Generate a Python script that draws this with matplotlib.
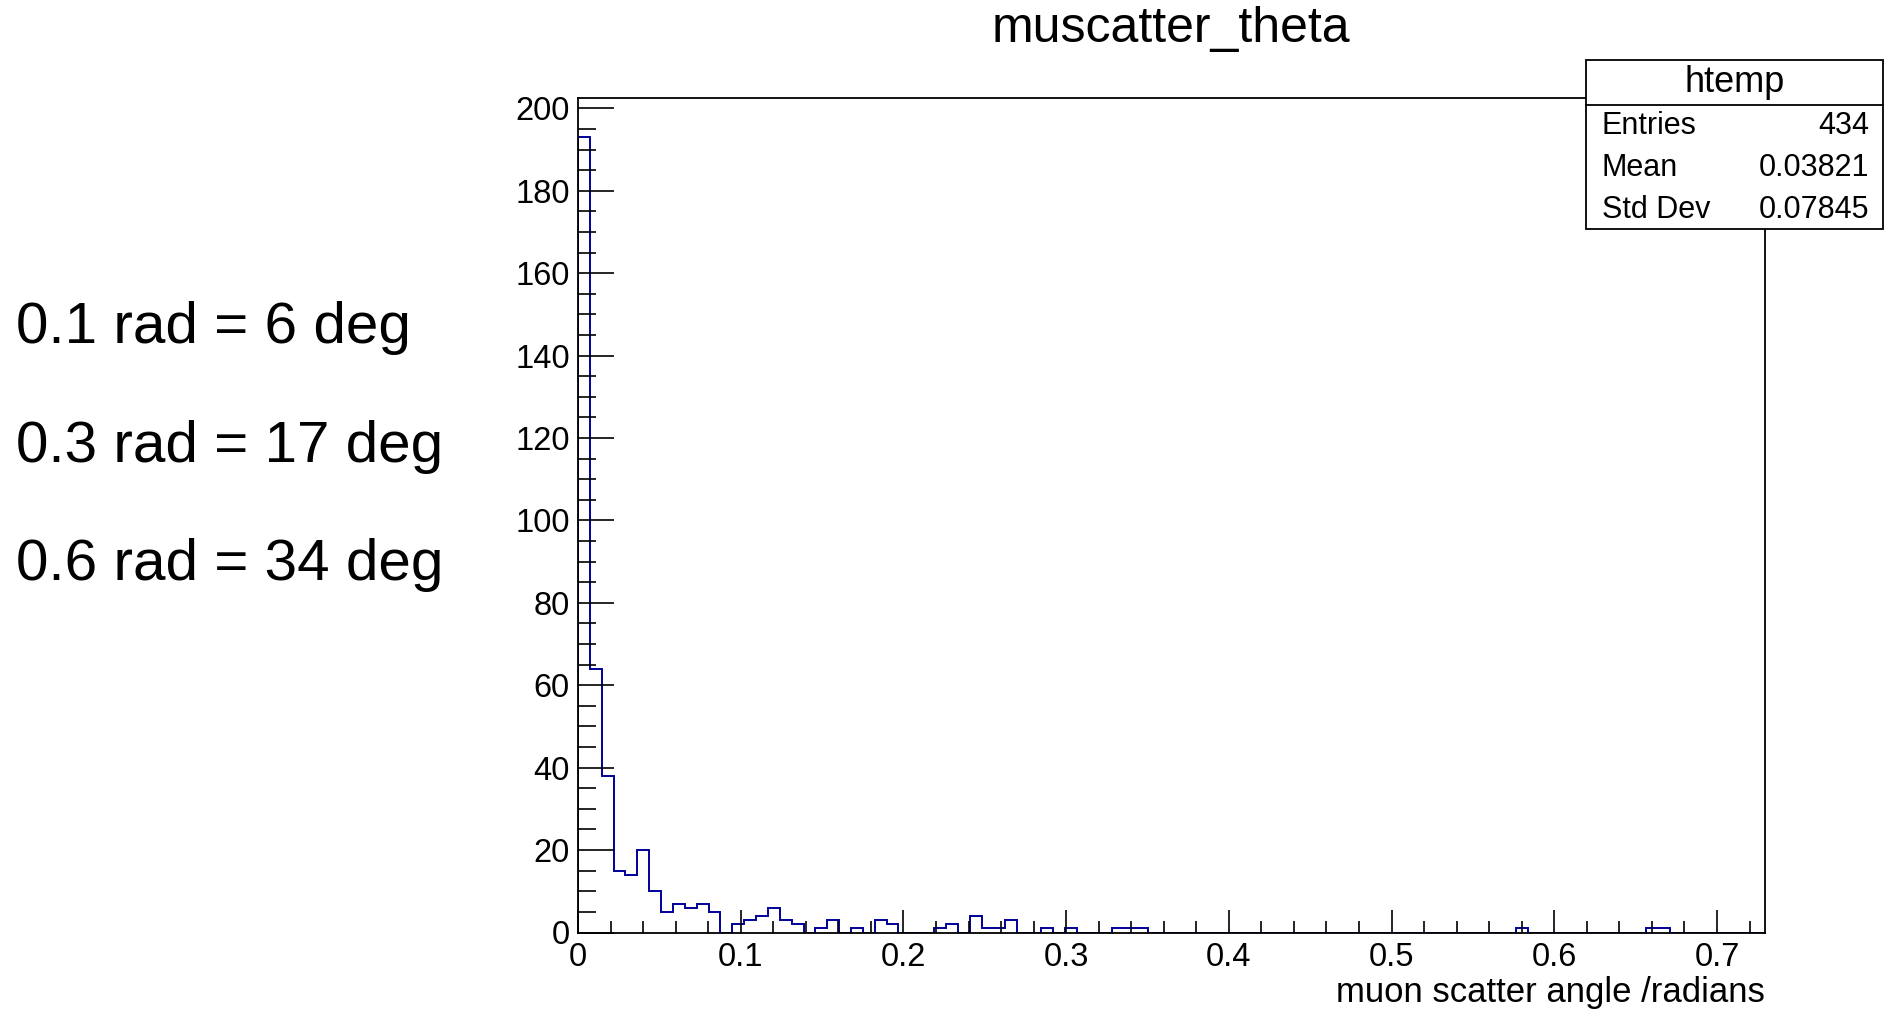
import numpy as np
import matplotlib
matplotlib.use('Agg')
import matplotlib.pyplot as plt
from matplotlib.patches import Rectangle
from matplotlib.ticker import MultipleLocator

plt.rcParams['font.family'] = ['Liberation Sans', 'DejaVu Sans']

# histogram data (100 bins, ROOT htemp)
x_min = 0.0
x_max = 0.7295
counts = [193, 64, 38, 15, 14, 20, 10, 5, 7, 6,
          7, 5, 0, 2, 3, 4, 6, 3, 2, 0,
          1, 3, 0, 1, 0, 3, 2, 0, 0, 0,
          1, 2, 0, 4, 1, 1, 3, 0, 0, 1,
          0, 1, 0, 0, 0, 1, 1, 1, 0, 0,
          0, 0, 0, 0, 0, 0, 0, 0, 0, 0,
          0, 0, 0, 0, 0, 0, 0, 0, 0, 0,
          0, 0, 0, 0, 0, 0, 0, 0, 0, 1,
          0, 0, 0, 0, 0, 0, 0, 0, 0, 0,
          1, 1, 0, 0, 0, 0, 0, 0, 0, 0]
x_ticks = [0, 0.1, 0.2, 0.3, 0.4, 0.5, 0.6, 0.7]
x_ticklabels = ['0', '0.1', '0.2', '0.3', '0.4', '0.5', '0.6', '0.7']
y_ticks = [0, 20, 40, 60, 80, 100, 120, 140, 160, 180, 200]

stats_name = 'htemp'
stats_rows = [('Entries', '434'), ('Mean', '0.03821'), ('Std Dev', '0.07845')]
notes = ['0.1 rad = 6 deg', '0.3 rad = 17 deg', '0.6 rad = 34 deg']

W, H = 1887, 1011
DPI = 100
PT = 72.0 / DPI  # points per pixel
fig = plt.figure(figsize=(W / DPI, H / DPI), dpi=DPI)

def fx(px):
    return px / W

def fy(py):
    return 1 - py / H

# axes frame in pixels: x 578..1765, y 97..932
ax = fig.add_axes([fx(578), fy(932.5), fx(1765) - fx(578), fy(97.5) - fy(932.5)])

edges = np.linspace(x_min, x_max, len(counts) + 1)
ax.stairs(counts, edges, color='#000099', linewidth=1.4, baseline=0)

ax.set_xlim(x_min, x_max)
ax.set_ylim(0, max(counts) * 1.05)

ax.set_xticks(x_ticks)
ax.set_xticklabels(x_ticklabels)
ax.set_yticks(y_ticks)
ax.xaxis.set_minor_locator(MultipleLocator(0.02))
ax.yaxis.set_minor_locator(MultipleLocator(5))

ax.tick_params(axis='both', which='both', direction='in', top=False, right=False,
               labelsize=23.5, color='black', width=1.2)
ax.tick_params(axis='x', which='major', length=23 * PT, pad=7)
ax.tick_params(axis='x', which='minor', length=12 * PT)
ax.tick_params(axis='y', which='major', length=36 * PT, pad=6)
ax.tick_params(axis='y', which='minor', length=18 * PT)
for s in ax.spines.values():
    s.set_linewidth(1.3)

ax.set_xlabel('muon scatter angle /radians', fontsize=25, loc='right', labelpad=2)

fig.text(fx(1171), fy(29), 'muscatter_theta', fontsize=36, ha='center', va='center')

# stats box
bx0, by0, bx1, by1 = 1586, 60, 1883, 229
fig.patches.append(Rectangle((fx(bx0), fy(by1)), fx(bx1) - fx(bx0), fy(by0) - fy(by1),
                             transform=fig.transFigure, facecolor='white',
                             edgecolor='black', linewidth=1.3, zorder=5))
fig.add_artist(plt.Line2D([fx(bx0), fx(bx1)], [fy(105), fy(105)],
                          transform=fig.transFigure, color='black', linewidth=1.3, zorder=6))
fig.text(fx((bx0 + bx1) / 2), fy(83), stats_name, fontsize=26, ha='center', va='center', zorder=7)
row_y = [126.5, 168.5, 210.5]
for (lab, val), yy in zip(stats_rows, row_y):
    fig.text(fx(1602), fy(yy), lab, fontsize=22, ha='left', va='center', zorder=7)
    fig.text(fx(1869), fy(yy), val, fontsize=22, ha='right', va='center', zorder=7)

# notes on the left
for txt, yy in zip(notes, [327.5, 447.5, 565.5]):
    fig.text(fx(16), fy(yy), txt, fontsize=42, ha='left', va='center')

fig.savefig('out.png', dpi=DPI)
